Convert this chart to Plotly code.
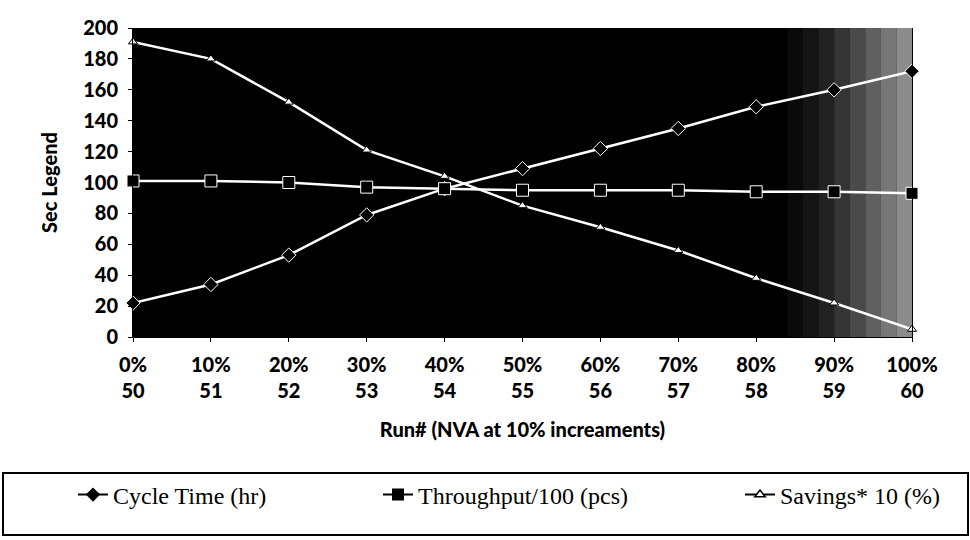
import plotly.graph_objects as go

# ---- data ----
nva_pct = ["0%", "10%", "20%", "30%", "40%", "50%", "60%", "70%", "80%", "90%", "100%"]
run_no = ["50", "51", "52", "53", "54", "55", "56", "57", "58", "59", "60"]
cycle_time = [22, 34, 53, 79, 96, 109, 122, 135, 149, 160, 172]
throughput = [101, 101, 100, 97, 96, 95, 95, 95, 94, 94, 93]
savings = [191, 180, 152, 121, 104, 85, 71, 56, 38, 22, 5]
y_ticks = [0, 20, 40, 60, 80, 100, 120, 140, 160, 180, 200]

series_names = ["Cycle Time (hr)", "Throughput/100 (pcs)", "Savings* 10 (%)"]

tick_text = [p + "<br>" + r for p, r in zip(nva_pct, run_no)]

AX_FONT = dict(family="Lato", size=20, color="black", weight=900)
LEG_FONT = dict(family="Liberation Serif", size=24, color="black")

fig = go.Figure()

# plot-area traces (white on dark background)
styles = [
    dict(symbol="diamond", size=11, color="black", line=dict(color="white", width=1)),
    dict(symbol="square", size=12, color="black", line=dict(color="white", width=1)),
    dict(symbol="triangle-up", size=8, color="white", line=dict(color="black", width=1)),
]
for vals, mk in zip([cycle_time, throughput, savings], styles):
    fig.add_trace(go.Scatter(
        x=nva_pct, y=vals, mode="lines+markers",
        line=dict(color="white", width=2.5),
        marker=mk, showlegend=False, cliponaxis=False,
    ))

# legend entries (black symbols on white)
leg_markers = [
    dict(symbol="diamond", size=11, color="black"),
    dict(symbol="square", size=12, color="black"),
    dict(symbol="triangle-up", size=9, color="white", line=dict(color="black", width=1.5)),
]
legend_ids = ["legend", "legend2", "legend3"]
for name, mk, lid in zip(series_names, leg_markers, legend_ids):
    fig.add_trace(go.Scatter(
        x=[None], y=[None], mode="lines+markers", name=name,
        line=dict(color="black", width=2), marker=mk, legend=lid,
    ))

# plot area background gradient toward right (lighter region of scan)
shapes = []
greys = ["#0a0a0a", "#151515", "#222222", "#353535", "#4a4a4a", "#606060", "#777777", "#8c8c8c"]
x0 = 8.4
step = (10 - x0) / len(greys)
for i, g in enumerate(greys):
    shapes.append(dict(type="rect", xref="x", yref="paper",
                       x0=x0 + i * step, x1=x0 + (i + 1) * step + 0.001,
                       y0=0, y1=1, fillcolor=g, line=dict(width=0), layer="below"))

# legend box
L, PW = 133, 779
T, PH = 28, 309
def px_x(p):
    return (p - L) / PW
def px_y(p):
    return (T + PH - p) / PH
shapes.append(dict(type="rect", xref="paper", yref="paper",
                   x0=px_x(3), x1=px_x(968), y0=px_y(535), y1=px_y(473),
                   line=dict(color="black", width=2), fillcolor="rgba(0,0,0,0)"))

fig.update_layout(
    width=970, height=540,
    margin=dict(l=L, r=970 - L - PW, t=T, b=540 - T - PH),
    paper_bgcolor="white", plot_bgcolor="black",
    shapes=shapes,
    xaxis=dict(
        type="category", range=[0, 10],
        tickmode="array", tickvals=nva_pct, ticktext=tick_text,
        tickfont=AX_FONT, ticks="outside", ticklen=4, tickcolor="black",
        ticklabelstandoff=6,
        showgrid=False, zeroline=False, showline=True, linecolor="black", linewidth=1,
        title=dict(text="Run# (NVA at 10% increaments)", font=AX_FONT, standoff=21),
    ),
    yaxis=dict(
        range=[0, 200], tickmode="array", tickvals=y_ticks,
        tickfont=AX_FONT, ticks="outside", ticklen=4, tickcolor="black",
        ticklabelstandoff=6,
        showgrid=False, zeroline=False, showline=True, linecolor="black", linewidth=1,
        mirror=True,
        title=dict(text="Sec Legend", font=AX_FONT, standoff=20),
    ),
    font=dict(family="Lato", color="black"),
)

leg_common = dict(orientation="h", xref="container", yref="container",
                  yanchor="middle", xanchor="left", y=1 - 495 / 540,
                  font=LEG_FONT, bgcolor="rgba(0,0,0,0)", borderwidth=0)
fig.update_layout(
    legend=dict(x=73 / 970, **leg_common),
    legend2=dict(x=378 / 970, **leg_common),
    legend3=dict(x=740 / 970, **leg_common),
)

fig.write_html("out.html")
